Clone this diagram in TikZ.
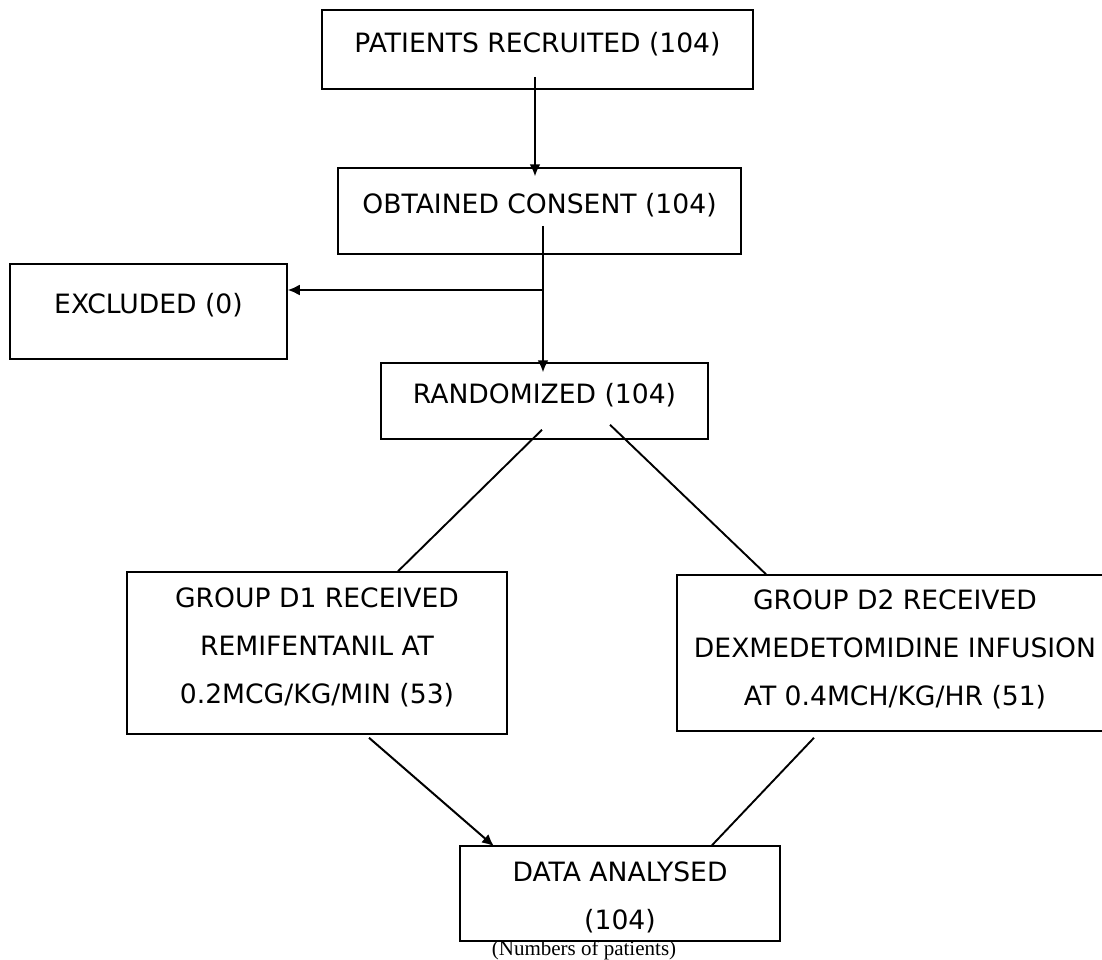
\documentclass[tikz,border=0pt]{standalone}
\usepackage{fontspec}
\setmainfont{DejaVu Sans}
\newfontfamily\notefont{Liberation Serif}
\usetikzlibrary{arrows.meta}

\tikzset{
  box/.style={draw, line width=1.5pt, inner sep=0pt},
  txt/.style={align=center, inner sep=0pt, font=\fontsize{26.6}{48}\selectfont},
  arr/.style={line width=2pt, -{Latex[length=12pt,width=11pt]}},
  lnk/.style={line width=1.9pt}
}

\begin{document}
\begin{tikzpicture}[x=1pt,y=-1pt]
	\useasboundingbox (0,0) rectangle (1102,959);

	% Recruitment and consent
	\node[box, minimum width=431pt, minimum height=79pt] (rec) at (537.5,49.5) {};
	\node[txt] (rec-t) at ([yshift=5pt]rec.center) {PATIENTS RECRUITED (104)};
	\node[box, minimum width=403pt, minimum height=86pt] (con) at (539.5,211) {};
	\node[txt] (con-t) at ([yshift=5.5pt]con.center) {OBTAINED CONSENT (104)};
	\draw[arr] ([xshift=-2.5pt,yshift=13pt]rec.south) -- ([xshift=-4.5pt,yshift=-9pt]con.north);

	% Exclusion and randomisation
	\node[box, minimum width=277pt, minimum height=95pt] (exc) at (148.5,311.5) {};
	\node[txt] (exc-t) at ([yshift=6pt]exc.center) {EXCLUDED (0)};
	\node[box, minimum width=327pt, minimum height=76pt] (ran) at (544.5,401) {};
	\node[txt] (ran-t) at ([yshift=5.5pt]ran.center) {RANDOMIZED (104)};
	\draw[arr] ([xshift=3.5pt,yshift=29pt]con.south) -- ([xshift=-1.5pt,yshift=-10pt]ran.north);
	\coordinate (brk) at (543,290);
	\draw[arr] (brk) -- ([yshift=21.5pt]exc.east);

	% Two groups
	\node[box, minimum width=380pt, minimum height=162pt] (d1) at (317,653) {};
	\node[txt] (d1-t) at ([yshift=5.5pt]d1.center) {GROUP D1 RECEIVED\\REMIFENTANIL AT\\0.2MCG/KG/MIN (53)};
	\node[box, minimum width=436pt, minimum height=156pt] (d2) at (895,653) {};
	\node[txt] (d2-t) at ([yshift=3.5pt]d2.center) {GROUP D2 RECEIVED\\DEXMEDETOMIDINE INFUSION\\AT 0.4MCH/KG/HR (51)};
	\draw[lnk] ([xshift=-2.5pt,yshift=10pt]ran.south) -- ([xshift=81pt]d1.north);
	\draw[lnk] ([xshift=65.5pt,yshift=15pt]ran.south) -- ([xshift=-129pt]d2.north);

	% Analysis
	\node[box, minimum width=320pt, minimum height=95pt] (dat) at (620,893.5) {};
	\node[txt] (dat-t) at ([yshift=-3.8pt]dat.center) {DATA ANALYSED\\(104)};
	\draw[arr] ([xshift=52pt,yshift=-3pt]d1.south) -- ([xshift=-126pt,yshift=-1pt]dat.north);
	\draw[lnk] ([xshift=-81pt,yshift=-6pt]d2.south) -- ([xshift=92pt]dat.north);
	\node[font=\notefont\fontsize{21}{24}\selectfont, inner sep=0pt] (note) at (584,950) {(Numbers of patients)};
\end{tikzpicture}
\end{document}
